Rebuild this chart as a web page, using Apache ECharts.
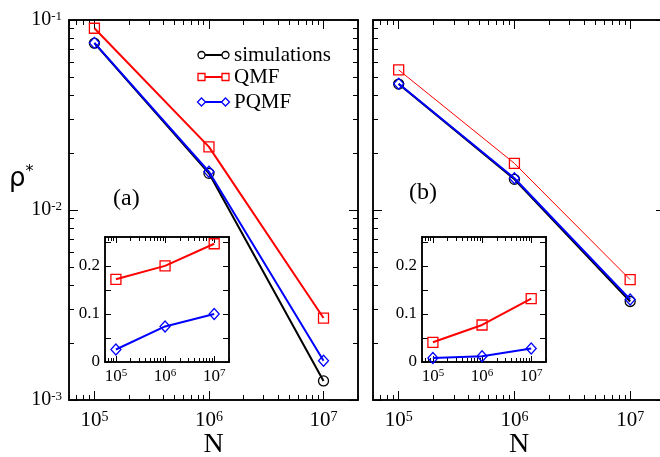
<!DOCTYPE html>
<html>
<head>
<meta charset="utf-8">
<script src="https://cdn.jsdelivr.net/npm/echarts@6/dist/echarts.min.js"></script>
<style>
  html, body { margin: 0; padding: 0; background: #fff; }
  #chart { width: 660px; height: 457px; }
</style>
</head>
<body>
<div id="chart"></div>
<script>
// system size
const N = [1e5, 1e6, 1e7];

// panel (a): rho* vs N
const simA = [0.0755, 0.0156, 0.00126];
const qmfA = [0.0905, 0.0215, 0.0027];
const pqmfA = [0.0758, 0.0159, 0.00161];

// panel (b)
const simB = [0.046, 0.0145, 0.0033];
const qmfB = [0.0546, 0.0176, 0.0043];
const pqmfB = [0.0462, 0.0147, 0.00338];

// insets (relative deviation)
const insetQmfA = [0.172, 0.2, 0.246];
const insetPqmfA = [0.026, 0.074, 0.1];
const insetQmfB = [0.041, 0.077, 0.132];
const insetPqmfB = [0.0085, 0.012, 0.028];

// ticks
const xMajor = [1e5, 1e6, 1e7];
const xMinor = [6e4, 7e4, 8e4, 9e4, 2e5, 3e5, 4e5, 5e5, 6e5, 7e5, 8e5, 9e5,
                2e6, 3e6, 4e6, 5e6, 6e6, 7e6, 8e6, 9e6, 2e7];
const yMajor = [1e-3, 1e-2, 1e-1];
const yMinor = [2e-3, 3e-3, 4e-3, 5e-3, 6e-3, 7e-3, 8e-3, 9e-3,
                2e-2, 3e-2, 4e-2, 5e-2, 6e-2, 7e-2, 8e-2, 9e-2];
const insetMajor = [0, 0.1, 0.2];
const insetMinor = [0.05, 0.15, 0.25];

const FONT = 'Liberation Serif';
const RED = '#ff0000', BLUE = '#0000ff', BLACK = '#000000';

const grids = [
  { left: 69, top: 20, width: 289, height: 380 },   // (a)
  { left: 373, top: 20, width: 292, height: 380 },  // (b)
  { left: 105, top: 237, width: 124, height: 125 }, // inset (a)
  { left: 422, top: 237, width: 124, height: 125 }  // inset (b)
];

function powLabel(v) {
  const e = Math.round(Math.log10(v));
  return '{base|10}{sup|' + e + '}';
}

// "10" with a raised exponent
function richLabel(size, supSize, raise) {
  return {
    fontFamily: FONT,
    fontSize: size,
    color: BLACK,
    formatter: powLabel,
    rich: {
      base: { fontFamily: FONT, fontSize: size, lineHeight: size, padding: [raise, 0, 0, 0],
              verticalAlign: 'bottom', color: BLACK },
      sup: { fontFamily: FONT, fontSize: supSize, lineHeight: supSize, verticalAlign: 'top', color: BLACK }
    }
  };
}

const xAxes = [], yAxes = [];

// one axis drawing only ticks (and maybe labels) on one side
function tickAxis(base, pos, values, len, label) {
  return Object.assign({}, base, {
    position: pos,
    axisLine: { show: true, onZero: false, lineStyle: { color: BLACK, width: 1.5 } },
    axisTick: { show: true, inside: true, length: len, customValues: values,
                lineStyle: { color: BLACK, width: 1 } },
    axisLabel: label ? Object.assign({ show: true, customValues: values, hideOverlap: false }, label) : { show: false },
    splitLine: { show: false },
    minorTick: { show: false }
  });
}

function addFrame(g, o) {
  const xBase = { gridIndex: g, type: 'log', logBase: 10, min: 6e4, max: 2e7 };
  const yBase = o.inset
    ? { gridIndex: g, type: 'value', min: 0, max: 0.26 }
    : { gridIndex: g, type: 'log', logBase: 10, min: 1e-3, max: 1e-1 };
  const big = o.inset ? 6 : 9, small = o.inset ? 4 : 5;
  const xi = xAxes.length, yi = yAxes.length;

  const xLab = o.inset ? richLabel(17, 11, 4) : richLabel(21, 14, 5);
  xLab.margin = o.inset ? 6 : 10;
  const xMain = tickAxis(xBase, 'bottom', xMajor, big, xLab);
  if (o.xName) {
    xMain.name = o.xName;
    xMain.nameLocation = 'middle';
    xMain.nameGap = 31;
    xMain.nameMoveOverlap = false;
    xMain.nameTextStyle = { fontFamily: FONT, fontSize: 28, color: BLACK, verticalAlign: 'top' };
  }
  xAxes.push(xMain);
  xAxes.push(tickAxis(xBase, 'bottom', xMinor, small, null));
  xAxes.push(tickAxis(xBase, 'top', xMajor, big, null));
  xAxes.push(tickAxis(xBase, 'top', xMinor, small, null));

  let yLab = null;
  if (o.yLabels) {
    if (o.inset) {
      yLab = { fontFamily: FONT, fontSize: 17, color: BLACK, margin: 5,
               formatter: v => (v === 0 ? '0' : String(v)) };
    } else {
      yLab = richLabel(20, 13, 5);
      yLab.margin = 7;
    }
  }
  yAxes.push(tickAxis(yBase, 'left', o.inset ? insetMajor : yMajor, big, yLab));
  yAxes.push(tickAxis(yBase, 'left', o.inset ? insetMinor : yMinor, o.inset ? big : small, null));
  yAxes.push(tickAxis(yBase, 'right', o.inset ? insetMajor : yMajor, big, null));
  yAxes.push(tickAxis(yBase, 'right', o.inset ? insetMinor : yMinor, o.inset ? big : small, null));
  return { xi, yi };
}

const fa = addFrame(0, { yLabels: true, xName: 'N' });
const fb = addFrame(1, { yLabels: false, xName: 'N' });
const ia = addFrame(2, { inset: true, yLabels: true });
const ib = addFrame(3, { inset: true, yLabels: true });

const pts = vals => vals.map((v, i) => [N[i], v]);

function mk(frame, vals, color, symbol, size, lw, z) {
  return {
    type: 'line',
    xAxisIndex: frame.xi,
    yAxisIndex: frame.yi,
    data: pts(vals),
    symbol: symbol,
    symbolSize: size,
    showSymbol: true,
    animation: false,
    z: z,
    lineStyle: { color: color, width: lw },
    itemStyle: { color: 'rgba(255,255,255,0)', borderColor: color, borderWidth: 1.3 }
  };
}

const series = [
  mk(fa, simA, BLACK, 'circle', 10, 2, 2),
  mk(fa, qmfA, RED, 'rect', 10, 2, 3),
  mk(fa, pqmfA, BLUE, 'diamond', [10, 11], 2, 4),
  mk(fb, simB, BLACK, 'circle', 10, 2, 2),
  mk(fb, qmfB, RED, 'rect', 10, 1, 3),
  mk(fb, pqmfB, BLUE, 'diamond', [10, 11], 2, 4),
  mk(ia, insetQmfA, RED, 'rect', 10, 2, 3),
  mk(ia, insetPqmfA, BLUE, 'diamond', [10, 11], 2, 4),
  mk(ib, insetQmfB, RED, 'rect', 10, 2, 3),
  mk(ib, insetPqmfB, BLUE, 'diamond', [10, 11], 2, 4)
];

// legend drawn as in the original figure: line with a symbol at both ends
const legendItems = [
  { name: 'simulations', color: BLACK, shape: 'circle', y: 55 },
  { name: 'QMF', color: RED, shape: 'rect', y: 77 },
  { name: 'PQMF', color: BLUE, shape: 'diamond', y: 102 }
];
function legendSymbol(shape, cx, cy, color) {
  const st = { fill: 'none', stroke: color, lineWidth: 1.3 };
  if (shape === 'circle') return { type: 'circle', shape: { cx: cx, cy: cy, r: 3.5 }, style: st };
  if (shape === 'rect') return { type: 'rect', shape: { x: cx - 3.5, y: cy - 3.5, width: 7, height: 7 }, style: st };
  return { type: 'polygon', shape: { points: [[cx, cy - 4], [cx + 4, cy], [cx, cy + 4], [cx - 4, cy]] }, style: st };
}
const graphics = [];
legendItems.forEach(it => {
  graphics.push({ type: 'line', shape: { x1: 205, y1: it.y, x2: 222, y2: it.y },
                  style: { stroke: it.color, lineWidth: 2 } });
  graphics.push(legendSymbol(it.shape, 201.5, it.y, it.color));
  graphics.push(legendSymbol(it.shape, 225.5, it.y, it.color));
  graphics.push({ type: 'text', x: 234, y: it.y,
                  style: { text: it.name, fontFamily: FONT, fontSize: 21, fill: BLACK, verticalAlign: 'middle' } });
});
graphics.push({ type: 'text', x: 113, y: 199,
                style: { text: '(a)', fontFamily: FONT, fontSize: 24, fill: BLACK, verticalAlign: 'middle' } });
graphics.push({ type: 'text', x: 409, y: 193,
                style: { text: '(b)', fontFamily: FONT, fontSize: 24, fill: BLACK, verticalAlign: 'middle' } });
graphics.push({ type: 'text', x: 9, y: 164,
                style: { text: '{r|ρ}{s|*}', fill: BLACK,
                         rich: { r: { fontFamily: 'DejaVu Sans', fontSize: 26, lineHeight: 30 },
                                 s: { fontFamily: 'DejaVu Sans', fontSize: 16, lineHeight: 16, verticalAlign: 'top' } } } });

const chart = echarts.init(document.getElementById('chart'));
chart.setOption({
  animation: false,
  backgroundColor: '#fff',
  grid: grids.map(g => Object.assign({ show: true, backgroundColor: '#fff', borderWidth: 0,
                                       containLabel: false, outerBoundsMode: 'none' }, g)),
  xAxis: xAxes,
  yAxis: yAxes,
  series: series,
  graphic: graphics
});
</script>
</body>
</html>
